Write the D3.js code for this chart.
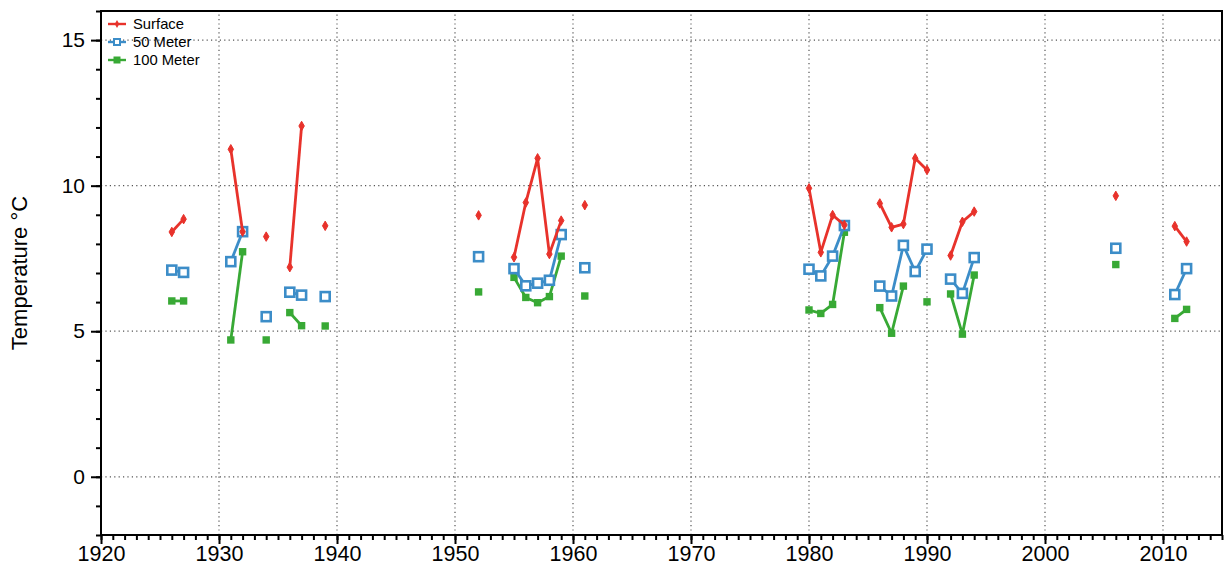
<!DOCTYPE html>
<html>
<head>
<meta charset="utf-8">
<script src="https://cdn.jsdelivr.net/npm/d3@7/dist/d3.min.js"></script>
<style>
  html, body { margin: 0; padding: 0; background: #fff; }
  svg { display: block; font-family: "Liberation Sans", Arial, Helvetica, sans-serif; }
</style>
</head>
<body>
<svg id="chart" width="1224" height="569"></svg>
<script>
// Sampling years (a series is only joined between consecutive years)
const years = [1926, 1927, 1931, 1932, 1934, 1936, 1937, 1939, 1952,
  1955, 1956, 1957, 1958, 1959, 1961,
  1980, 1981, 1982, 1983, 1986, 1987, 1988, 1989, 1990,
  1992, 1993, 1994, 2006, 2011, 2012];

const surface = [8.41, 8.85, 11.25, 8.42, 8.25, 7.2, 12.05, 8.62, 8.98,
  7.54, 9.42, 10.94, 7.65, 8.8, 9.33,
  9.91, 7.71, 8.99, 8.65, 9.39, 8.57, 8.68, 10.94, 10.54,
  7.6, 8.76, 9.11, 9.65, 8.61, 8.08];

const meter50 = [7.1, 7.02, 7.39, 8.42, 5.5, 6.34, 6.24, 6.19, 7.56,
  7.15, 6.56, 6.65, 6.75, 8.32, 7.18,
  7.13, 6.9, 7.58, 8.63, 6.55, 6.21, 7.95, 7.05, 7.82,
  6.79, 6.3, 7.53, 7.85, 6.26, 7.15];

const meter100 = [6.04, 6.04, 4.7, 7.73, 4.7, 5.64, 5.19, 5.18, 6.35,
  6.85, 6.16, 5.98, 6.19, 7.58, 6.21,
  5.73, 5.61, 5.92, 8.4, 5.81, 4.93, 6.55, null, 6.01,
  6.28, 4.9, 6.93, 7.29, 5.44, 5.75];

const seriesNames = ["Surface", "50 Meter", "100 Meter"];
const yTickValues = [0, 5, 10, 15];
const xTickValues = [1920, 1930, 1940, 1950, 1960, 1970, 1980, 1990, 2000, 2010];
const yLabel = "Temperature °C";

const colors = { "Surface": "#e8322b", "50 Meter": "#3c8dc8", "100 Meter": "#38a935" };

const svg = d3.select("#chart");
const margin = { left: 101, right: 2, top: 11, bottom: 34 };
const W = 1224, H = 569;
const x = d3.scaleLinear().domain([1920, 2015]).range([margin.left, W - margin.right]);
const y = d3.scaleLinear().domain([-2, 16]).range([H - margin.bottom, margin.top]);

// Dotted gridlines at the major ticks
const grid = svg.append("g").attr("stroke", "#555").attr("stroke-width", 1.2)
  .attr("stroke-dasharray", "1.2,3.2");
grid.selectAll("line.gx").data(xTickValues.slice(1)).join("line")
  .attr("x1", d => x(d)).attr("x2", d => x(d))
  .attr("y1", y.range()[0]).attr("y2", y.range()[1]);
grid.selectAll("line.gy").data(yTickValues).join("line")
  .attr("y1", d => y(d)).attr("y2", d => y(d))
  .attr("x1", x.range()[0]).attr("x2", x.range()[1]);

// Frame
svg.append("rect")
  .attr("x", x.range()[0]).attr("y", y.range()[1])
  .attr("width", x.range()[1] - x.range()[0])
  .attr("height", y.range()[0] - y.range()[1])
  .attr("fill", "none").attr("stroke", "#000").attr("stroke-width", 2);

// X axis: minor ticks every year, labelled major ticks every decade
const xMinor = svg.append("g").attr("transform", `translate(0,${y.range()[0]})`)
  .call(d3.axisBottom(x).tickValues(d3.range(1920, 2016, 1)).tickSize(5).tickFormat(""));
const xMajor = svg.append("g").attr("transform", `translate(0,${y.range()[0]})`)
  .call(d3.axisBottom(x).tickValues(xTickValues).tickSize(9).tickFormat(d3.format("d")).tickPadding(2));
[xMinor, xMajor].forEach(g => {
  g.select(".domain").remove();
  g.selectAll(".tick line").attr("stroke", "#000").attr("stroke-width", 2);
});
xMajor.selectAll("text").attr("font-size", 21.5).attr("fill", "#000")
  .attr("font-family", "Liberation Sans, Arial, sans-serif");

// Y axis: minor ticks every degree, labelled every 5
const yMinor = svg.append("g").attr("transform", `translate(${x.range()[0]},0)`)
  .call(d3.axisLeft(y).tickValues(d3.range(-2, 17, 1)).tickSize(5).tickFormat(""));
const yMajor = svg.append("g").attr("transform", `translate(${x.range()[0]},0)`)
  .call(d3.axisLeft(y).tickValues(yTickValues).tickSize(10).tickPadding(6).tickFormat(d3.format("d")));
[yMinor, yMajor].forEach(g => {
  g.select(".domain").remove();
  g.selectAll(".tick line").attr("stroke", "#000").attr("stroke-width", 2);
});
yMajor.selectAll("text").attr("font-size", 21).attr("fill", "#000")
  .attr("font-family", "Liberation Sans, Arial, sans-serif");

svg.append("text")
  .attr("transform", `translate(27,${(y.range()[0] + y.range()[1]) / 2}) rotate(-90)`)
  .attr("text-anchor", "middle")
  .attr("font-size", 22).attr("fill", "#000")
  .text(yLabel);

// Split a series into runs of consecutive years with values
function runs(values) {
  const out = [];
  let cur = [];
  years.forEach((yr, i) => {
    const v = values[i];
    if (v == null) { if (cur.length) out.push(cur); cur = []; return; }
    if (cur.length && yr - cur[cur.length - 1].yr !== 1) { out.push(cur); cur = []; }
    cur.push({ yr, v });
  });
  if (cur.length) out.push(cur);
  return out;
}

const line = d3.line().x(d => x(d.yr)).y(d => y(d.v));
const diamond = d3.symbol().type(d3.symbolDiamond).size(26);

function drawSeries(name, values) {
  const c = colors[name];
  const g = svg.append("g");
  runs(values).filter(r => r.length > 1).forEach(r => {
    g.append("path").attr("d", line(r)).attr("fill", "none")
      .attr("stroke", c).attr("stroke-width", 2.8).attr("stroke-linejoin", "round");
  });
  const pts = years.map((yr, i) => ({ yr, v: values[i] })).filter(d => d.v != null);
  if (name === "Surface") {
    g.selectAll("path.m").data(pts).join("path")
      .attr("transform", d => `translate(${x(d.yr)},${y(d.v)})`)
      .attr("d", diamond).attr("fill", c).attr("stroke", c).attr("stroke-width", 1);
  } else if (name === "50 Meter") {
    g.selectAll("rect.m").data(pts).join("rect")
      .attr("x", d => x(d.yr) - 4.5).attr("y", d => y(d.v) - 4.5)
      .attr("width", 9).attr("height", 9)
      .attr("fill", "#fff").attr("stroke", c).attr("stroke-width", 2.6);
  } else {
    g.selectAll("rect.m").data(pts).join("rect")
      .attr("x", d => x(d.yr) - 3.7).attr("y", d => y(d.v) - 3.7)
      .attr("width", 7.4).attr("height", 7.4).attr("fill", c);
  }
}

drawSeries("100 Meter", meter100);
drawSeries("50 Meter", meter50);
drawSeries("Surface", surface);

// Legend
const legend = svg.append("g").attr("transform", "translate(108,24)");
seriesNames.forEach((name, i) => {
  const c = colors[name];
  const row = legend.append("g").attr("transform", `translate(0,${i * 18})`);
  row.append("line").attr("x1", 0).attr("x2", 18).attr("y1", 0).attr("y2", 0)
    .attr("stroke", c).attr("stroke-width", 2.4);
  if (name === "Surface") {
    row.append("path").attr("transform", "translate(9,0)")
      .attr("d", d3.symbol().type(d3.symbolDiamond).size(18)).attr("fill", c);
  } else if (name === "50 Meter") {
    row.append("rect").attr("x", 6).attr("y", -3).attr("width", 6).attr("height", 6)
      .attr("fill", "#fff").attr("stroke", c).attr("stroke-width", 2);
  } else {
    row.append("rect").attr("x", 5.5).attr("y", -3.5).attr("width", 7).attr("height", 7).attr("fill", c);
  }
  row.append("text").attr("x", 25).attr("y", 0).attr("dy", "0.35em")
    .attr("font-size", 14.8).attr("fill", "#000").text(name);
});
</script>
</body>
</html>
